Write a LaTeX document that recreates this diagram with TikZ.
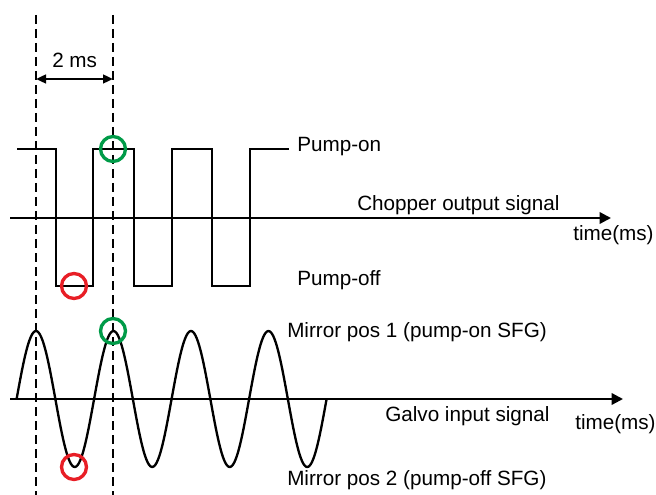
\documentclass[tikz,border=0pt]{standalone}
\usepackage{fontspec}
\setmainfont{Liberation Sans}
\usetikzlibrary{arrows.meta}
\definecolor{mgreen}{RGB}{0,155,72}
\definecolor{mred}{RGB}{232,30,38}

\begin{document}
\begin{tikzpicture}[x=0.75pt,y=-0.75pt,
  sig/.style={line width=1.75pt,black},
  axis/.style={line width=1.75pt,-{Triangle[length=8.5pt,width=8.5pt]}},
  guide/.style={line width=1.6pt,dash pattern=on 6.5pt off 4pt},
  ring/.style={line width=2.5pt},
  lbl/.style={anchor=base west,inner sep=0pt,font=\fontsize{15.5}{18}\selectfont}
]
  \useasboundingbox (0,0) rectangle (656,495);

  % guide lines, one period apart
  \draw[guide] (36,15) -- (36,495);
  \draw[guide] (113,15) -- (113,495);
  \coordinate (p1) at (36,79);
  \coordinate (p2) at (113,79);
  \draw[line width=1.75pt,{Triangle[length=7.5pt,width=6.5pt]}-{Triangle[length=7.5pt,width=6.5pt]}] (p1) -- (p2);
  \node[lbl] (period) at (52,68) {2 ms};

  % chopper output
  \coordinate (c0) at (10,218);
  \coordinate (c1) at (611,218);
  \draw[axis] (c0) -- (c1);
  \draw[sig] (17,149) -| (56,286) -| (93,149) -| (134,286) -| (172,149) -| (212,286) -| (250,149) -- (289,149);
  \node[lbl] (pon)  at (297,152) {Pump-on};
  \node[lbl] (chop) at (357,210) {Chopper output signal};
  \node[lbl] (t1)   at (573,240) {time(ms)};
  \node[lbl] (poff) at (297,285) {Pump-off};

  % galvo input
  \coordinate (g0) at (10,399);
  \coordinate (g1) at (623,399);
  \draw[axis] (g0) -- (g1);
  \draw[sig,line join=round] plot[domain=0:310,samples=240,smooth] ({16.6+\x},{399-68*sin(4.6452*\x)});
  \node[lbl] (mir1)  at (287,337) {Mirror pos 1 (pump-on SFG)};
  \node[lbl] (galvo) at (385,421) {Galvo input signal};
  \node[lbl] (t2)    at (575,429) {time(ms)};
  \node[lbl] (mir2)  at (287,485) {Mirror pos 2 (pump-off SFG)};

  % sampled positions
  \draw[ring,mgreen] (113,149) circle (12.5);
  \draw[ring,mred]   (74,286)  circle (12.5);
  \draw[ring,mgreen] (113,331) circle (12.5);
  \draw[ring,mred]   (74,467)  circle (12.5);
\end{tikzpicture}
\end{document}
